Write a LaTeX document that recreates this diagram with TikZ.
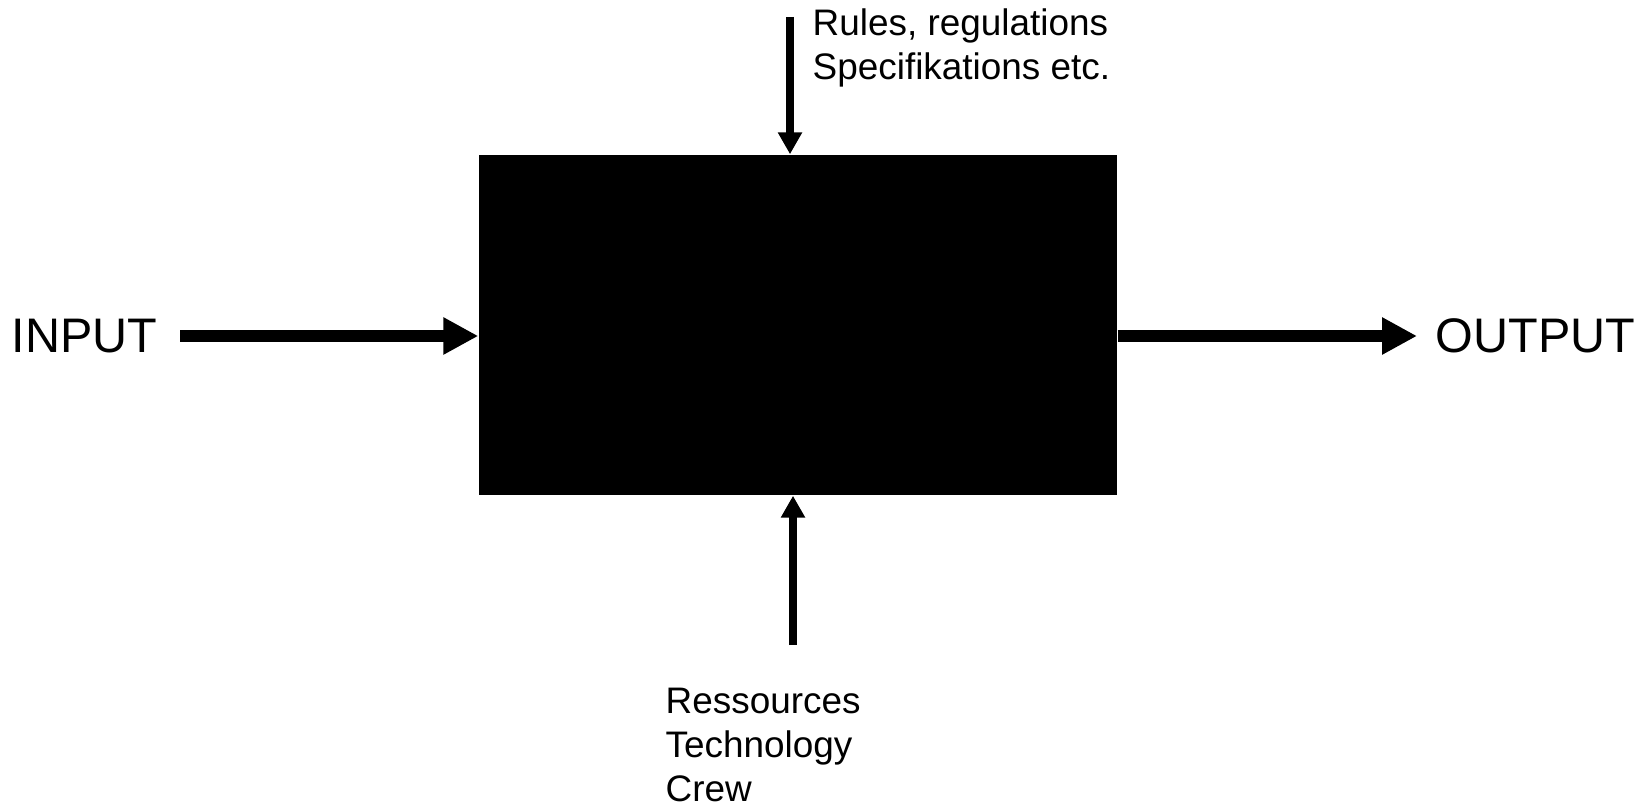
\documentclass[tikz,border=0pt]{standalone}
\usepackage{fontspec}
\setmainfont{Liberation Sans}
\usetikzlibrary{arrows.meta}

\begin{document}
\begin{tikzpicture}[
		big label/.style={inner sep=0, font=\fontsize{13.8}{16.5}\selectfont},
		small label/.style={inner sep=0, align=left, font=\fontsize{10.5}{12.6}\selectfont},
		main arrow/.style={line width=0.12cm, -{Triangle[length=0.35cm, width=0.35cm]}},
		side arrow/.style={line width=0.08cm, -{Triangle[length=0.22cm, width=0.23cm]}}
	]
		\useasboundingbox (0,0) rectangle (16.52,8.08);
		% the process
		\node[fill, shape=rectangle, minimum width=6.38cm, minimum height=3.4cm, inner sep=0] (box) at (7.98,4.83){};
		% input and output
		\node[big label, anchor=base west] (input) at (0.11,4.56){INPUT};
		\node[big label, anchor=base west] (output) at (14.35,4.56){OUTPUT};
		\coordinate (in) at (1.80,4.72);
		\coordinate (out) at (14.17,4.72);
		\draw[main arrow] (in) -- (box.west |- in);
		\draw[main arrow] (box.east |- out) -- (out);
		% controls from above
		\node[small label, anchor=north west] (rules) at (8.12,8.00){Rules, regulations\\Specifikations etc.};
		\coordinate (top) at (7.90,7.91);
		\draw[side arrow] (top) -- (top |- box.north);
		% mechanisms from below
		\node[small label, anchor=north west] (means) at (6.65,1.21){Ressources\\Technology\\Crew};
		\coordinate (bottom) at (7.93,1.63);
		\draw[side arrow] (bottom) -- (bottom |- box.south);
\end{tikzpicture}
\end{document}
